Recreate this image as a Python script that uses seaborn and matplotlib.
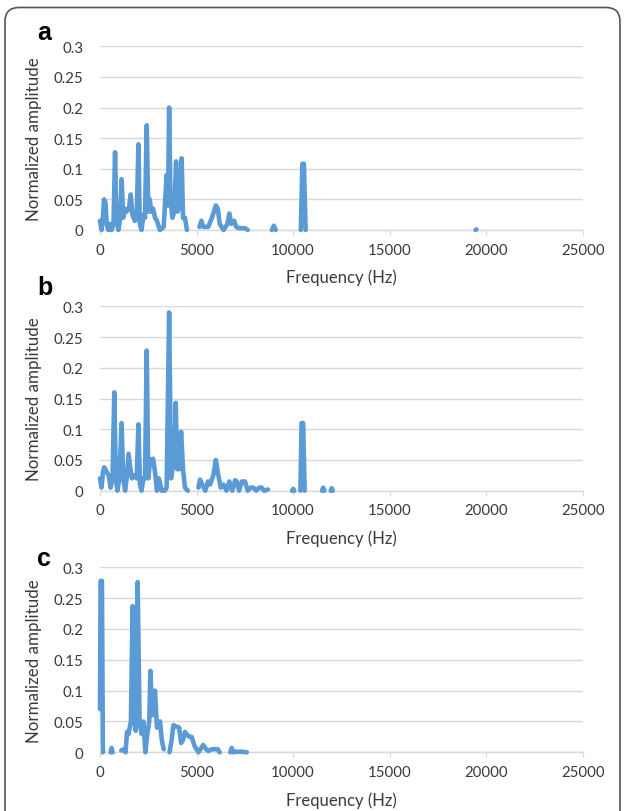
import numpy as np
import pandas as pd
import matplotlib
matplotlib.use("Agg")
import matplotlib.pyplot as plt
from matplotlib.patches import FancyBboxPatch
from matplotlib.transforms import IdentityTransform
import seaborn as sns

nan = np.nan

# panel a: frequency (Hz) / normalized amplitude, nan = break in the trace
freq_a = [0, 80, 150, 210, 280, 350, 430, 520, 600, 700, 780, 850, 950, 1050, 1120, 1200,
          1280, 1380, 1500, 1590, 1680, 1800, 1900, 1990, 2060, 2150, 2250, 2330, 2420, 2500,
          2580, 2650, 2750, 2850, 2950, 3100, 3300, 3450, 3520, 3580, 3650, 3750, 3850, 3940,
          4020, 4100, 4230, 4300, 4400, 4500, 4800,
          5150, 5250, 5350, 5600, 5800, 6000, 6100, 6200, 6400, 6600, 6700, 6800, 6950, 7050,
          7200, 7500, 7650, 8000,
          8900, 9000, 9100, 9500,
          10400, 10480, 10560, 10650, 11000,
          19450, 19500]
amp_a = [0.015, 0.0, 0.02, 0.05, 0.045, 0.01, 0.0, 0.01, 0.0, 0.01, 0.127, 0.02, 0.0, 0.02, 0.083, 0.02,
         0.035, 0.03, 0.035, 0.058, 0.025, 0.015, 0.02, 0.14, 0.01, 0.0, 0.025, 0.02, 0.171, 0.03,
         0.05, 0.03, 0.035, 0.02, 0.015, 0.0, 0.005, 0.09, 0.04, 0.2, 0.05, 0.02, 0.03, 0.112,
         0.03, 0.04, 0.117, 0.02, 0.02, 0.0, nan,
         0.005, 0.015, 0.005, 0.005, 0.02, 0.04, 0.035, 0.01, 0.0, 0.01, 0.027, 0.01, 0.015, 0.005,
         0.003, 0.003, 0.0, nan,
         0.0, 0.007, 0.0, nan,
         0.0, 0.108, 0.108, 0.0, nan,
         0.0, 0.001]

# panel b
freq_b = [0, 80, 150, 210, 280, 350, 450, 550, 650, 740, 820, 900, 1000, 1120, 1200, 1300,
          1400, 1480, 1560, 1650, 1800, 1900, 1990, 2070, 2150, 2250, 2330, 2420, 2500, 2600,
          2750, 2850, 2950, 3050, 3200, 3350, 3450, 3580, 3680, 3780, 3850, 3920, 4000, 4100,
          4200, 4300, 4400, 4550, 4800,
          5100, 5180, 5300, 5450, 5600, 5700, 5870, 6000, 6100, 6250, 6400, 6550, 6700, 6850,
          7000, 7080, 7200, 7350, 7510, 7650, 7800, 7940, 8100, 8250, 8370, 8500, 8700, 9000,
          9950, 10010, 10060, 10200,
          10380, 10440, 10520, 10600, 11000,
          11500, 11560, 11620, 11800,
          11950, 12000, 12050]
amp_b = [0.02, 0.005, 0.03, 0.038, 0.035, 0.03, 0.025, 0.005, 0.02, 0.16, 0.02, 0.0, 0.02, 0.11, 0.02, 0.0,
         0.025, 0.06, 0.04, 0.02, 0.025, 0.02, 0.108, 0.01, 0.0, 0.02, 0.02, 0.228, 0.02, 0.05,
         0.052, 0.03, 0.0, 0.02, 0.0, 0.0, 0.005, 0.29, 0.02, 0.04, 0.04, 0.143, 0.035, 0.035,
         0.096, 0.035, 0.005, 0.0, nan,
         0.005, 0.018, 0.01, 0.0, 0.015, 0.01, 0.025, 0.05, 0.03, 0.005, 0.01, 0.0, 0.015, 0.0,
         0.017, 0.015, 0.0, 0.015, 0.015, 0.0, 0.005, 0.005, 0.0, 0.005, 0.005, 0.0, 0.002, nan,
         0.0, 0.003, 0.0, nan,
         0.0, 0.11, 0.11, 0.0, nan,
         0.0, 0.005, 0.0, nan,
         0.0, 0.004, 0.0]

# panel c
freq_c = [0, 30, 100, 150, 300,
          550, 600, 650, 900,
          1100, 1250, 1320, 1400, 1480, 1600, 1690, 1780, 1850, 1950, 2050, 2150, 2250, 2350,
          2450, 2550, 2610, 2700, 2850, 2950, 3110, 3200, 3300, 3500,
          3600, 3710, 3800, 3940, 4100, 4200, 4300, 4400, 4550, 4650, 4750, 4900, 5100, 5350,
          5500, 5600, 5800, 5950, 6100, 6200, 6400,
          6750, 6820, 6900, 7050, 7300, 7600]
amp_c = [0.07, 0.278, 0.278, 0.0, nan,
         0.0, 0.007, 0.0, nan,
         0.003, 0.005, 0.0, 0.033, 0.03, 0.05, 0.237, 0.05, 0.035, 0.276, 0.05, 0.03, 0.05, 0.0,
         0.03, 0.05, 0.132, 0.06, 0.1, 0.04, 0.05, 0.02, 0.005, nan,
         0.0, 0.02, 0.044, 0.042, 0.04, 0.015, 0.02, 0.033, 0.027, 0.025, 0.025, 0.01, 0.0, 0.012,
         0.005, 0.002, 0.005, 0.005, 0.005, 0.0, nan,
         0.0, 0.007, 0.0, 0.001, 0.001, 0.0]

panels = [("a", freq_a, amp_a), ("b", freq_b, amp_b), ("c", freq_c, amp_c)]
x_ticks = [0, 5000, 10000, 15000, 20000, 25000]
y_ticks = [0, 0.05, 0.1, 0.15, 0.2, 0.25, 0.3]
y_ticklabels = ["0", "0.05", "0.1", "0.15", "0.2", "0.25", "0.3"]

sns.set_style("white")
plt.rcParams["font.family"] = ["Lato", "DejaVu Sans"]

W, H = 624, 812
fig = plt.figure(figsize=(W / 100, H / 100), dpi=100)

blue = "#5b9bd5"
grid = "#d9d9d9"
text_col = "#3a3a3a"

# (top of plot area, bottom of plot area) in pixels
boxes = [(47.3, 231.0), (307.3, 491.7), (568.3, 753.3)]
letter_pos = [(44, 33), (45, 288), (44, 559)]
left_px, right_px = 100, 582.7

for (letter, fr, am), (top, bot), (lx, ly) in zip(panels, boxes, letter_pos):
    ax = fig.add_axes([left_px / W, 1 - bot / H, (right_px - left_px) / W, (bot - top) / H])
    df = pd.DataFrame({"freq": fr, "amp": am})
    df["seg"] = df["amp"].isna().cumsum()
    df = df.dropna()
    sns.lineplot(data=df, x="freq", y="amp", units="seg", estimator=None,
                 color=blue, linewidth=3.3, sort=False, ax=ax, clip_on=False,
                 solid_joinstyle="round", solid_capstyle="round", zorder=3)
    ax.set_xlim(0, 25000)
    ax.set_ylim(0, 0.3)
    ax.set_xticks(x_ticks)
    ax.set_xticklabels([str(t) for t in x_ticks])
    ax.set_yticks(y_ticks)
    ax.set_yticklabels(y_ticklabels)
    ax.yaxis.grid(True, color=grid, linewidth=1.0)
    ax.set_axisbelow(True)
    for s in ["top", "right", "left"]:
        ax.spines[s].set_visible(False)
    ax.spines["bottom"].set_color(grid)
    ax.spines["bottom"].set_linewidth(1.0)
    ax.spines["bottom"].set_zorder(1)
    ax.tick_params(axis="x", direction="out", length=3.6, width=0.8, color=grid,
                   pad=5.5, labelsize=10.8, labelcolor=text_col, bottom=True)
    ax.tick_params(axis="y", length=0, pad=12, labelsize=10.8, labelcolor=text_col)
    ax.set_xlabel("Frequency (Hz)", fontsize=12, color=text_col)
    ax.set_ylabel("Normalized amplitude", fontsize=12.2, color=text_col)
    ax.xaxis.set_label_coords(0.5, -0.21)
    ax.yaxis.set_label_coords(-0.12, 0.5)
    fig.text(lx / W, 1 - ly / H, letter, fontsize=18, fontweight="bold",
             family="Liberation Sans", ha="center", va="center", color="black")

frame = FancyBboxPatch((5, -30), 615, H - 8.5 + 30,
                       boxstyle="round,pad=0,rounding_size=14",
                       transform=IdentityTransform(), fill=False,
                       edgecolor="#555555", linewidth=1.2)
fig.patches.append(frame)

fig.savefig("out.png", dpi=100)
